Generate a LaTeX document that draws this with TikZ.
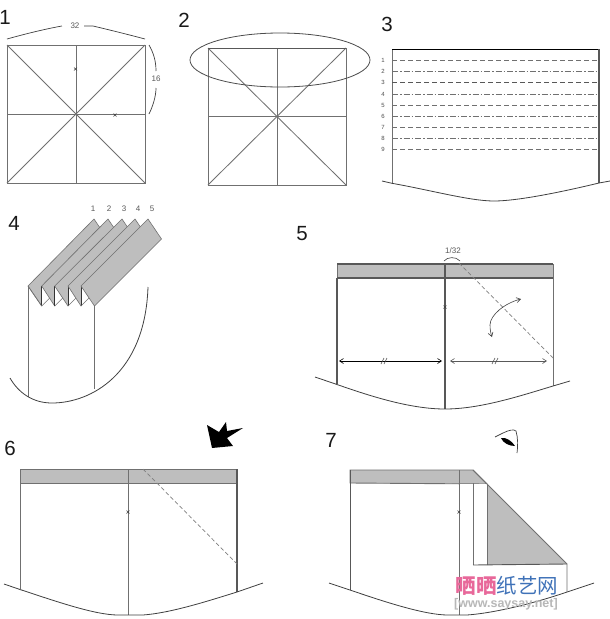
\documentclass[tikz,border=0pt]{standalone}
\usepackage{fontspec}
\setmainfont{Liberation Sans}
\newfontfamily\cjkfont{Noto Sans CJK SC}
\usetikzlibrary{arrows.meta}
\definecolor{bandgray}{HTML}{BEBEBE}
\definecolor{linegray}{HTML}{707070}
\definecolor{darkline}{HTML}{585858}
\definecolor{pinkwm}{HTML}{E8689A}
\definecolor{bluewm}{HTML}{3F72B8}
\tikzset{
  x=1pt,y=-1pt,
  fold/.style={draw=linegray,line width=0.85pt},
  heavy/.style={draw=darkline,line width=1.3pt},
  rim/.style={draw=black!75,line width=0.8pt},
  band/.style={fill=bandgray,draw=linegray,line width=0.9pt},
  stepnum/.style={font=\fontsize{20.5}{21}\selectfont,inner sep=0pt,text=black!90},
  tinynum/.style={font=\fontsize{6}{6}\selectfont,inner sep=0pt,text=black!70},
  smallnum/.style={font=\fontsize{8}{8}\selectfont,inner sep=0pt,text=black!65},
  dashA/.style={draw=linegray,line width=0.7pt,dash pattern=on 5pt off 3pt},
  dashB/.style={draw=linegray,line width=0.6pt,dash pattern=on 6pt off 2pt on 1.5pt off 2pt},
  foldline/.style={draw=gray,line width=0.7pt,dash pattern=on 4pt off 2.5pt},
  barb/.style={{Straight Barb[length=4pt,width=5pt]}-{Straight Barb[length=4pt,width=5pt]},line width=0.6pt},
  pleat/.style={fill=bandgray,draw=linegray,line width=0.6pt},
}
\newcommand{\crossmark}[2]{\draw[black!75,line width=0.5pt] (#1-1.5,#2-1.5) -- (#1+1.5,#2+1.5) (#1-1.5,#2+1.5) -- (#1+1.5,#2-1.5);}
\newcommand{\basesquare}[4]{% left top right bottom
  \draw[fold] (#1,#2) rectangle (#3,#4);
  \draw[fold] (#1,#2) -- (#3,#4) (#1,#4) -- (#3,#2);
  \draw[fold] ({(#1+#3)/2},#2) -- ({(#1+#3)/2},#4) (#1,{(#2+#4)/2}) -- (#3,{(#2+#4)/2});
}
\begin{document}
\begin{tikzpicture}
\useasboundingbox (0,0) rectangle (610,619);
\fill[white] (0,0) rectangle (610,619);

% Step labels
\node[stepnum] (s1) at (5,17) {1};
\node[stepnum] (s2) at (184,20) {2};
\node[stepnum] (s3) at (387,24) {3};
\node[stepnum] (s4) at (14,223) {4};
\node[stepnum] (s5) at (302,234) {5};
\node[stepnum] (s6) at (10,448) {6};
\node[stepnum] (s7) at (331,440) {7};

% Panel 1
\basesquare{7}{45}{145}{183}
\crossmark{75.5}{69}
\crossmark{115}{115}
\node[smallnum] (len32) at (75,26) {32};
\node[smallnum] (len16) at (156,79) {16};
\draw[black!75,line width=0.7pt] (7,39) .. controls (25,34) and (45,29) .. (62,26);
\draw[black!75,line width=0.7pt] (84,26) -- (93,26) .. controls (110,30) and (130,35) .. (145,39);
\draw[black!75,line width=0.7pt] (149,45) .. controls (153,52) and (156,60) .. (156,71);
\draw[black!75,line width=0.7pt] (156,88) .. controls (156,96) and (153,106) .. (149,114);

% Panel 2
\basesquare{208}{48}{346}{185}
\draw[heavy,line width=1pt] (208,48) -- (346,48);
\draw[black!70,line width=0.8pt] (280,60) ellipse [x radius=90, y radius=27];

% Panel 3
\draw[draw=linegray,line width=0.8pt] (392,183) -- (392,49);
\draw[black,line width=1pt] (392,49) -- (599,49);
\draw[darkline,line width=1.5pt] (599,49) -- (599,183);
\foreach \yy/\lab/\sty in {60.7/1/dashA,71.7/2/dashB,82.7/3/dashA,94/4/dashB,105/5/dashA,116.3/6/dashB,127.3/7/dashA,138.7/8/dashB,149.7/9/dashA}{
  \node[tinynum] at (383,\yy) {\lab};
  \draw[\sty] (392,\yy) -- (599,\yy);
}
\draw[dashA,line width=1.1pt,draw=darkline] (392,82.7) -- (599,82.7);
\draw[rim] (382,181) -- (392,183.3) .. controls (430,190) and (470,201) .. (494,201) .. controls (520,201) and (570,190) .. (599,183) -- (610,181);

% Panel 4
\draw[fold] (28,286) -- (28,397);
\draw[fold] (94.5,306) -- (94.5,389);
\draw[rim] (10,378) .. controls (18,392) and (32,403) .. (52,403) .. controls (90,403) and (145,375) .. (148,287);
\foreach \ax/\tx/\bx [count=\i] in {28/94/41.7,41.7/108/54.7,54.7/122/68,68/135/81,81/148/94.5}{
  \ifnum\i>1
    \fill[white] (\ax,286) -- (\ax,306) -- (\ax+13,306) -- cycle;
    \draw[black!80,line width=0.7pt] (\ax,286) -- (\ax,306);
    \draw[linegray,line width=0.5pt] (\ax,306) -- (\ax+8,298);
  \fi
  \filldraw[pleat] (\ax,286) -- (\tx,219) -- (\tx+13.5,239) -- (\bx,306) -- cycle;
}
\draw[fold,line width=0.6pt] (28,286) -- (41.7,306);
\node[smallnum] (p1) at (93,209) {1};
\node[smallnum] (p2) at (109,209) {2};
\node[smallnum] (p3) at (124,209) {3};
\node[smallnum] (p4) at (138,209) {4};
\node[smallnum] (p5) at (152,209) {5};

% Panel 5
\filldraw[band] (337,264) rectangle (553,278);
\draw[heavy] (337,278) -- (337,384);
\draw[heavy,line width=1.5pt] (445,264) -- (445,409);
\draw[heavy] (337,264) -- (553,264) (337,278) -- (553,278);
\draw[fold] (553,264) -- (553,386);
\draw[foldline] (459,263) -- (553,358);
\crossmark{445}{307}
\draw[rim] (315,377) -- (337,384.5) .. controls (370,396) and (410,409) .. (445,409) .. controls (480,409) and (520,396) .. (553,386) -- (570,381);
\node[smallnum] (frac) at (453,251) {1/32};
\draw[black!75,line width=0.6pt] (444,261) .. controls (447,257) and (456,256) .. (460,261);
\draw[barb] (339,361) -- (442,361);
\draw[barb,draw=black!65] (450,361) -- (547,361);
\draw[black!70,line width=0.6pt] (381,364) -- (384,358) (384,364) -- (387,358);
\draw[black!70,line width=0.6pt] (492,364) -- (495,358) (495,364) -- (498,358);
\draw[line width=0.6pt,black!75,{Straight Barb[length=4pt,width=5pt]}-{Straight Barb[length=4pt,width=5pt]}] (521,299) .. controls (505,303) and (490,315) .. (490,325) .. controls (490,330) and (491,334) .. (492,337);

% Panel 6
\filldraw[band] (20,469) rectangle (237,483);
\draw[fold] (20,483) -- (20,589);
\draw[fold] (128,469) -- (128,615);
\draw[heavy] (237,469) -- (237,592);
\draw[foldline] (143,469) -- (237,564);
\crossmark{128}{512}
\draw[rim] (4,584) -- (20,589.5) .. controls (55,601) and (95,615) .. (118,615) -- (143,615) .. controls (170,613) and (205,602) .. (237,592) -- (263,583);
\fill[black] (207,425) -- (219,432) -- (226,422) -- (227,431) -- (243,428) -- (227,438) -- (233,446) -- (212,448) -- cycle;

% Panel 7
\filldraw[band] (350,470) -- (473,470) -- (487,484) -- (350,483) -- cycle;
\fill[white] (459,483.5) rectangle (487,565);
\filldraw[fill=bandgray,draw=none] (487,484) -- (567,564) -- (487,565) -- cycle;
\draw[heavy,line width=0.9pt] (350,470) -- (350,590);
\draw[fold] (459,470) -- (459,615);
\draw[fold] (473,483) -- (473,565);
\draw[fold] (487,484) -- (487,565);
\draw[heavy,line width=0.9pt] (473,565) -- (567,564);
\draw[fold] (473,470) -- (567,564) -- (567,592);
\crossmark{459}{512}
\draw[rim] (329,583) -- (350,590) .. controls (385,602) and (425,615) .. (448,615) -- (467,615) .. controls (495,613) and (535,603) .. (567,592) -- (594,583);
% Eye
\draw[black!75,line width=0.7pt] (495,437) -- (503,433) .. controls (509,430) and (514,429) .. (516,431) .. controls (518,438) and (518,446) .. (517,453);
\fill[black] (501,438) .. controls (506,437) and (512,441) .. (515,446) .. controls (509,446) and (503,443) .. (501,438) -- cycle;

% Watermark
\node[inner sep=0pt,anchor=center] (wm1) at (507,586) {\cjkfont\fontsize{20.5}{21}\selectfont\textcolor{pinkwm}{\bfseries 晒晒}\textcolor{bluewm}{纸艺网}};
\node[inner sep=0pt,anchor=center,font=\bfseries\fontsize{12.5}{13}\selectfont,text=black!28] (wm2) at (506,604) {[www.saysay.net]};
\end{tikzpicture}
\end{document}
